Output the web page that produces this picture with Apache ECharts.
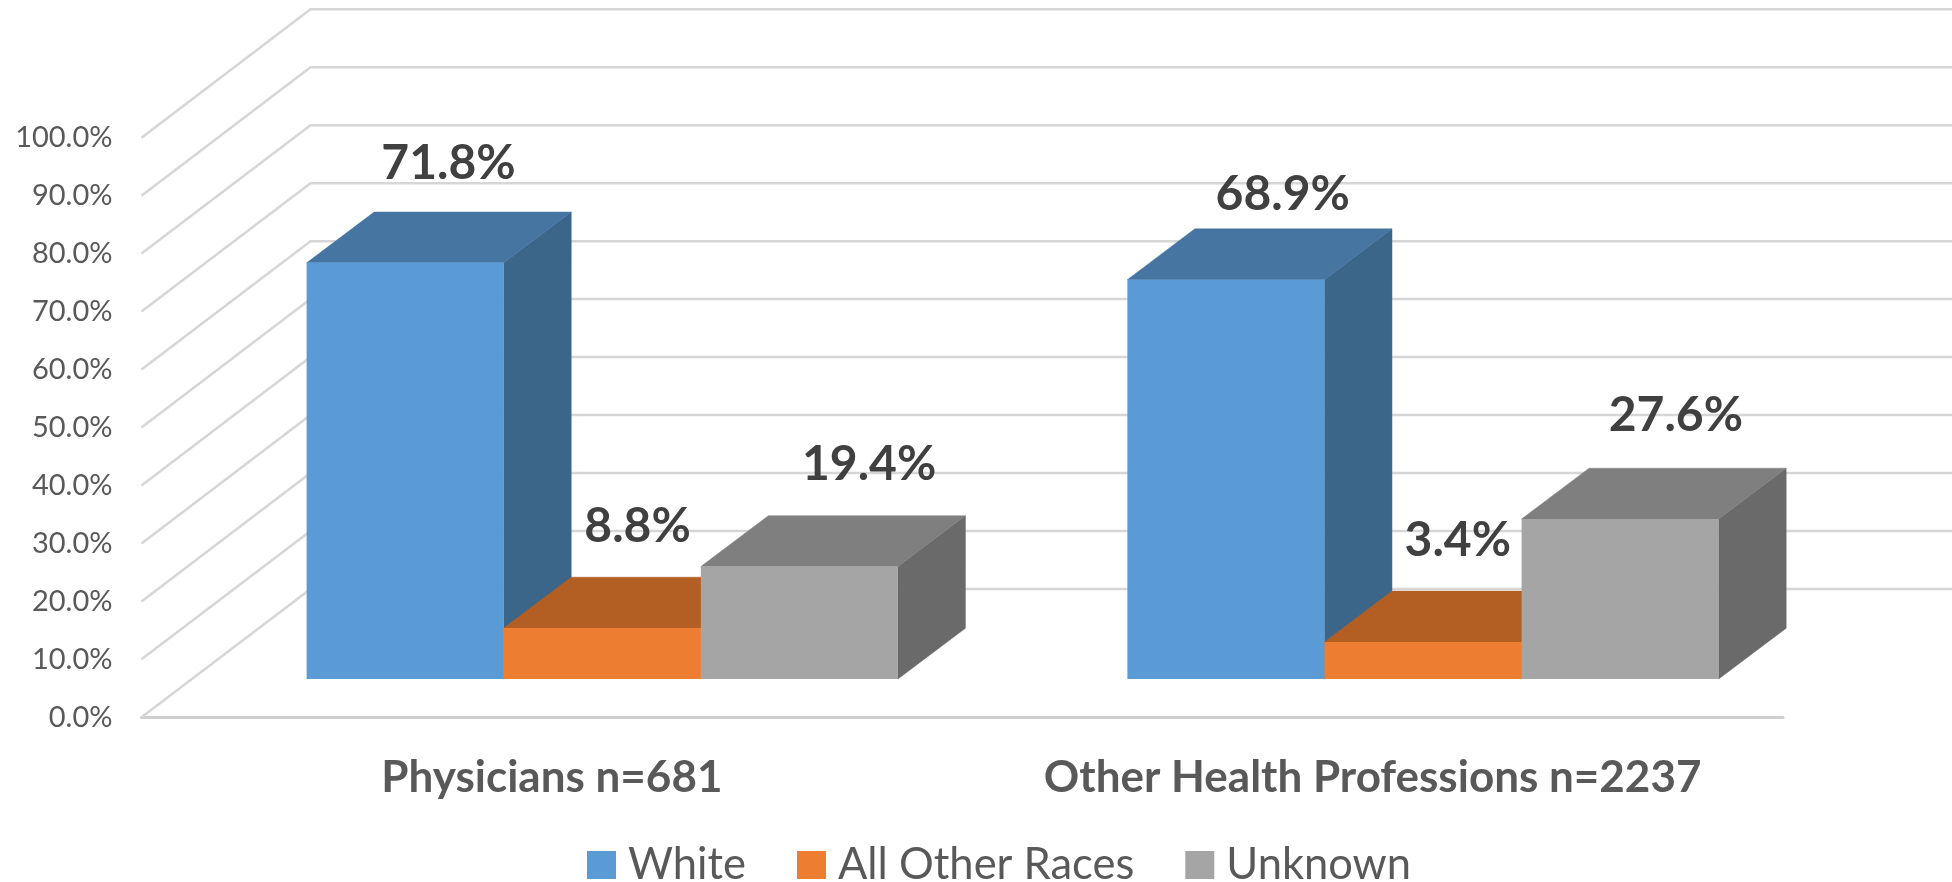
<!DOCTYPE html>
<html><head><meta charset="utf-8">
<style>html,body{margin:0;padding:0;background:#fff}#c{width:1952px;height:882px}</style>
<script src="https://cdn.jsdelivr.net/npm/echarts@6/dist/echarts.min.js"></script>
</head><body><div id="c"></div>
<script>
const categories = ['Physicians n=681', 'Other Health Professions n=2237'];
const gridTicks = [0, 10, 20, 30, 40, 50, 60, 70, 80, 90, 100];
const seriesNames = ['White', 'All Other Races', 'Unknown'];
const white = [71.8, 68.9];
const otherRaces = [8.8, 6.4];
const unknown = [19.4, 27.6];
const whiteLabels = ['71.8%', '68.9%'];
const otherRacesLabels = ['8.8%', '3.4%'];
const unknownLabels = ['19.4%', '27.6%'];

const FONT = 'Lato, "Open Sans", sans-serif';
// layout of the 3D box
const WALL_DX = 169, WALL_DY = 128.4, RIGHT_EDGE = 1952;
const PLANE_DX = 50.4, PLANE_DY = 38.3, BAR_W = 197.1, BAR_DX = 67.5, BAR_DY = 50.8;
const palettes = [
  {front:'#5B9BD5', top:'#4675A1', side:'#3B6589'},
  {front:'#ED7D31', top:'#B35E23', side:'#9A5120'},
  {front:'#A5A5A5', top:'#7F7F7F', side:'#6A6A6A'}
];
const labelNudges = [
  [[9.5,-49],[23,-34]],
  [[1.5,-51],[1,-51]],
  [[36,-51],[22,-53]]
];
const allLabels = [whiteLabels, otherRacesLabels, unknownLabels];

function poly(pts, color){
  return {type:'polygon', shape:{points:pts}, style:{fill:color, stroke:color, lineWidth:0.5}};
}
function barRender(si){
  return function(params, api){
    const cat = api.value(0), v = api.value(1);
    const cx = api.coord([cat, 0])[0];
    const y0 = api.coord([cat, 0])[1] - PLANE_DY;
    const y1 = api.coord([cat, v])[1] - PLANE_DY;
    const x0 = cx + PLANE_DX + (si - 1.5) * BAR_W;
    const x1 = x0 + BAR_W;
    const p = palettes[si];
    const nudge = labelNudges[si][params.dataIndex];
    return {type:'group', children:[
      poly([[x1,y0],[x1+BAR_DX,y0-BAR_DY],[x1+BAR_DX,y1-BAR_DY],[x1,y1]], p.side),
      poly([[x0,y1],[x1,y1],[x1+BAR_DX,y1-BAR_DY],[x0+BAR_DX,y1-BAR_DY]], p.top),
      {type:'rect', shape:{x:x0,y:y1,width:BAR_W,height:y0-y1}, style:{fill:p.front}},
      {type:'text', z2:50, style:{
        x:(x0+x1)/2 + BAR_DX/2 + nudge[0], y:y1 - BAR_DY + nudge[1],
        text:allLabels[si][params.dataIndex], align:'center', verticalAlign:'middle',
        fill:'#404040', font:'bold 48px '+FONT}}
    ]};
  };
}
function gridRender(params, api){
  const v = api.value(0);
  const c = api.coord([0, v]);
  const x = params.coordSys.x, y = c[1];
  const st = {stroke:'#D6D6D6', lineWidth:2.5, fill:'none'};
  return {type:'polyline', shape:{points:[[x,y],[x+WALL_DX,y-WALL_DY],[RIGHT_EDGE,y-WALL_DY]]}, style:st};
}
function barSeries(i, vals){
  return {
    name: seriesNames[i], type:'custom', renderItem:barRender(i), z:3+i,
    itemStyle:{color:palettes[i].front},
    encode:{x:0,y:1},
    data: vals.map((v,k)=>[k,v])
  };
}
const chart = echarts.init(document.getElementById('c'), null, {renderer:'canvas'});
chart.setOption({
  animation:false,
  backgroundColor:'#fff',
  textStyle:{fontFamily:FONT},
  grid:{left:141.5, right:169, top:137.7, bottom:164.7, containLabel:false},
  legend:{
    data:seriesNames, left:587, top:843, padding:0, icon:'rect', itemWidth:29, itemHeight:28, itemGap:51,
    textStyle:{color:'#595959', fontSize:43.5, fontFamily:FONT, padding:[0,0,0,7]}
  },
  xAxis:{
    type:'category', data:categories,
    axisTick:{show:false},
    axisLine:{lineStyle:{color:'#CFCFCF', width:3}},
    axisLabel:{color:'#595959', fontSize:44, fontWeight:'bold', fontFamily:FONT, margin:39, interval:0},
    splitLine:{show:false}
  },
  yAxis:{
    type:'value', min:0, max:100, interval:10,
    axisLine:{show:false}, axisTick:{show:false}, splitLine:{show:false},
    axisLabel:{color:'#595959', fontSize:29, fontFamily:FONT, margin:29, formatter:v=>v.toFixed(1)+'%'}
  },
  series:[
    {type:'custom', renderItem:gridRender, silent:true, z:1, encode:{y:0}, data:gridTicks.map(t=>[t]), clip:false, legendHoverLink:false},
    barSeries(0, white),
    barSeries(1, otherRaces),
    barSeries(2, unknown)
  ]
});
</script></body></html>
